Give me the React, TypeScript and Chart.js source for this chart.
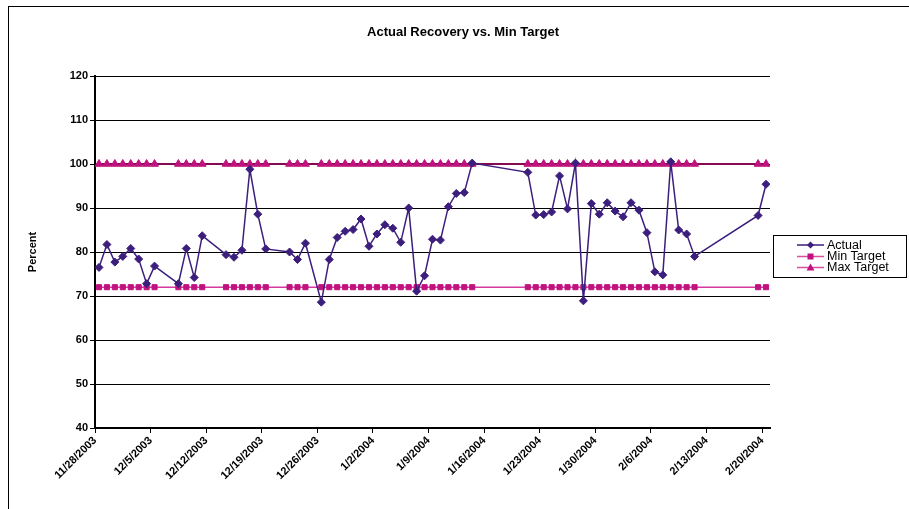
import React, { useEffect, useRef } from "react";
import { Chart, registerables } from "chart.js";

Chart.register(...registerables);

const START_DATE = "11/28/2003";
const AXIS_DAYS = 85;
const TICK_STEP_DAYS = 7;

const dates: string[] = [
  "11/28/2003", "11/29/2003", "11/30/2003", "12/1/2003", "12/2/2003", "12/3/2003", "12/4/2003", "12/5/2003",
  "12/8/2003", "12/9/2003", "12/10/2003", "12/11/2003",
  "12/14/2003", "12/15/2003", "12/16/2003", "12/17/2003", "12/18/2003", "12/19/2003",
  "12/22/2003", "12/23/2003", "12/24/2003",
  "12/26/2003", "12/27/2003", "12/28/2003", "12/29/2003", "12/30/2003", "12/31/2003", "1/1/2004", "1/2/2004",
  "1/3/2004", "1/4/2004", "1/5/2004", "1/6/2004", "1/7/2004", "1/8/2004", "1/9/2004", "1/10/2004", "1/11/2004",
  "1/12/2004", "1/13/2004", "1/14/2004",
  "1/21/2004", "1/22/2004", "1/23/2004", "1/24/2004", "1/25/2004", "1/26/2004", "1/27/2004", "1/28/2004",
  "1/29/2004", "1/30/2004", "1/31/2004", "2/1/2004", "2/2/2004", "2/3/2004", "2/4/2004", "2/5/2004", "2/6/2004",
  "2/7/2004", "2/8/2004", "2/9/2004", "2/10/2004", "2/11/2004",
  "2/19/2004", "2/20/2004",
];

const actual: number[] = [
  76.5, 81.7, 77.7, 79.0, 80.8, 78.4, 72.8, 76.8,
  72.8, 80.8, 74.2, 83.7,
  79.4, 78.8, 80.4, 98.8, 88.6, 80.7,
  80.0, 78.3, 82.0,
  68.6, 78.3, 83.3, 84.7, 85.1, 87.5, 81.3, 84.1,
  86.2, 85.4, 82.2, 90.0, 71.1, 74.6, 82.9, 82.7, 90.3,
  93.3, 93.5, 100.2,
  98.1, 88.4, 88.5, 89.1, 97.3, 89.8, 100.2, 68.9,
  91.0, 88.6, 91.2, 89.3, 88.0, 91.2, 89.5, 84.4, 75.5,
  74.8, 100.5, 85.0, 84.1, 79.0,
  88.3, 95.4,
];

const minTarget: number[] = dates.map(() => 72);
const maxTarget: number[] = dates.map(() => 100);

const yTicks: number[] = [40, 50, 60, 70, 80, 90, 100, 110, 120];

const TITLE = "Actual Recovery vs. Min Target";
const Y_TITLE = "Percent";
const SERIES_NAMES = ["Actual", "Min Target", "Max Target"];

function parseDate(s: string): number {
  const [m, d, y] = s.split("/").map(Number);
  return Date.UTC(y, m - 1, d);
}
const DAY = 86400000;
const startMs = parseDate(START_DATE);
function dayOffset(s: string): number {
  return Math.round((parseDate(s) - startMs) / DAY);
}
function labelFor(day: number): string {
  const d = new Date(startMs + day * DAY);
  return `${d.getUTCMonth() + 1}/${d.getUTCDate()}/${d.getUTCFullYear()}`;
}

const FONT = "'Liberation Sans', Arial, sans-serif";
const C_ACTUAL = "#3C1E7C";
const C_MARK = "#C0127E";
const C_MIN_LINE = "#D63AA0";
const C_MAX_LINE = "#850A52";

export default function App() {
  const ref = useRef<HTMLCanvasElement | null>(null);

  useEffect(() => {
    if (!ref.current) return;
    const toPts = (vals: number[]) => dates.map((d, i) => ({ x: dayOffset(d) + 0.5, y: vals[i] }));

    const overlay = {
      id: "overlay",
      afterDraw(chart: any) {
        const ctx = chart.ctx;
        ctx.save();
        ctx.fillStyle = "#000";
        ctx.textAlign = "center";
        ctx.textBaseline = "middle";
        ctx.font = `bold 13px ${FONT}`;
        ctx.fillText(TITLE, 463, 32);
        ctx.save();
        ctx.translate(33, 252);
        ctx.rotate(-Math.PI / 2);
        ctx.font = `bold 11px ${FONT}`;
        ctx.fillText(Y_TITLE, 0, 0);
        ctx.restore();
        const bx = 773, by = 235, bw = 133, bh = 42;
        ctx.fillStyle = "#fff";
        ctx.fillRect(bx, by, bw, bh);
        ctx.strokeStyle = "#000";
        ctx.lineWidth = 1;
        ctx.strokeRect(bx + 0.5, by + 0.5, bw, bh);
        const rows = [245, 256.5, 267.5];
        chart.data.datasets.forEach((ds: any, i: number) => {
          const y = rows[i];
          ctx.strokeStyle = i === 0 ? C_ACTUAL : "#D94FA0";
          ctx.lineWidth = 1.5;
          ctx.beginPath();
          ctx.moveTo(797, y);
          ctx.lineTo(824, y);
          ctx.stroke();
          ctx.fillStyle = ds.pointBackgroundColor;
          const cx = 810.5;
          ctx.beginPath();
          if (i === 0) {
            ctx.moveTo(cx, y - 3.5);
            ctx.lineTo(cx + 3.5, y);
            ctx.lineTo(cx, y + 3.5);
            ctx.lineTo(cx - 3.5, y);
          } else if (i === 1) {
            ctx.rect(cx - 3, y - 3, 6, 6);
          } else {
            ctx.moveTo(cx, y - 4);
            ctx.lineTo(cx + 4, y + 3);
            ctx.lineTo(cx - 4, y + 3);
          }
          ctx.closePath();
          ctx.fill();
          ctx.fillStyle = "#000";
          ctx.textAlign = "left";
          ctx.font = `12.5px ${FONT}`;
          ctx.fillText(SERIES_NAMES[i], 827, y + 0.5);
        });
        ctx.restore();
      },
    };

    const chart = new Chart(ref.current, {
      type: "line",
      data: {
        datasets: [
          {
            label: SERIES_NAMES[0],
            data: toPts(actual),
            borderColor: C_ACTUAL,
            backgroundColor: C_ACTUAL,
            pointBackgroundColor: C_ACTUAL,
            pointBorderColor: C_ACTUAL,
            pointStyle: "rectRot",
            pointRadius: 4,
            pointBorderWidth: 1,
            borderWidth: 1.5,
            tension: 0,
          },
          {
            label: SERIES_NAMES[1],
            data: toPts(minTarget),
            borderColor: C_MIN_LINE,
            backgroundColor: C_MARK,
            pointBackgroundColor: C_MARK,
            pointBorderColor: C_MARK,
            pointStyle: "rect",
            pointRadius: 3.6,
            pointBorderWidth: 1,
            borderWidth: 1.5,
          },
          {
            label: SERIES_NAMES[2],
            data: toPts(maxTarget),
            borderColor: C_MAX_LINE,
            backgroundColor: C_MARK,
            pointBackgroundColor: C_MARK,
            pointBorderColor: C_MARK,
            pointStyle: "triangle",
            pointRadius: 4.5,
            pointBorderWidth: 1,
            borderWidth: 2,
          },
        ] as any,
      },
      options: {
        animation: false,
        responsive: false,
        devicePixelRatio: 1,
        layout: { padding: { left: 27, right: 139, top: 76, bottom: 0 } },
        plugins: { legend: { display: false }, title: { display: false }, tooltip: { enabled: false } },
        scales: {
          x: {
            type: "linear",
            min: 0,
            max: AXIS_DAYS,
            afterBuildTicks: (s: any) => {
              const t = [];
              for (let v = 0; v < AXIS_DAYS; v += TICK_STEP_DAYS) t.push({ value: v });
              s.ticks = t;
            },
            afterFit: (s: any) => {
              s.height = 81;
              s.paddingLeft = 0;
              s.paddingRight = 0;
            },
            ticks: {
              autoSkip: false,
              minRotation: 45,
              maxRotation: 45,
              padding: 1,
              color: "#000",
              font: { family: FONT, size: 11, weight: "bold" },
              callback: (v: any) => labelFor(Number(v)),
            },
            grid: { drawOnChartArea: false, drawTicks: true, tickLength: 5, color: "#000", lineWidth: 1 },
            border: { color: "#000", width: 2 },
          },
          y: {
            min: 40,
            max: 120,
            afterBuildTicks: (s: any) => {
              s.ticks = yTicks.map((v) => ({ value: v }));
            },
            afterFit: (s: any) => {
              s.width = 68;
              s.paddingTop = 0;
              s.paddingBottom = 0;
            },
            ticks: {
              padding: 2,
              color: "#000",
              font: { family: FONT, size: 11, weight: "bold" },
            },
            grid: { color: "#000", lineWidth: 1, tickLength: 5 },
            border: { color: "#000", width: 2 },
          },
        },
      } as any,
      plugins: [overlay],
    });
    return () => chart.destroy();
  }, []);

  return (
    <div style={{ position: "fixed", left: 0, top: 0, width: 909, height: 509, overflow: "hidden", background: "#fff" }}>
      <div style={{ position: "absolute", left: 8, top: 6, width: 940, height: 560, border: "1px solid #000" }} />
      <canvas ref={ref} width={909} height={509} style={{ position: "absolute", left: 0, top: 0, display: "block" }} />
    </div>
  );
}
